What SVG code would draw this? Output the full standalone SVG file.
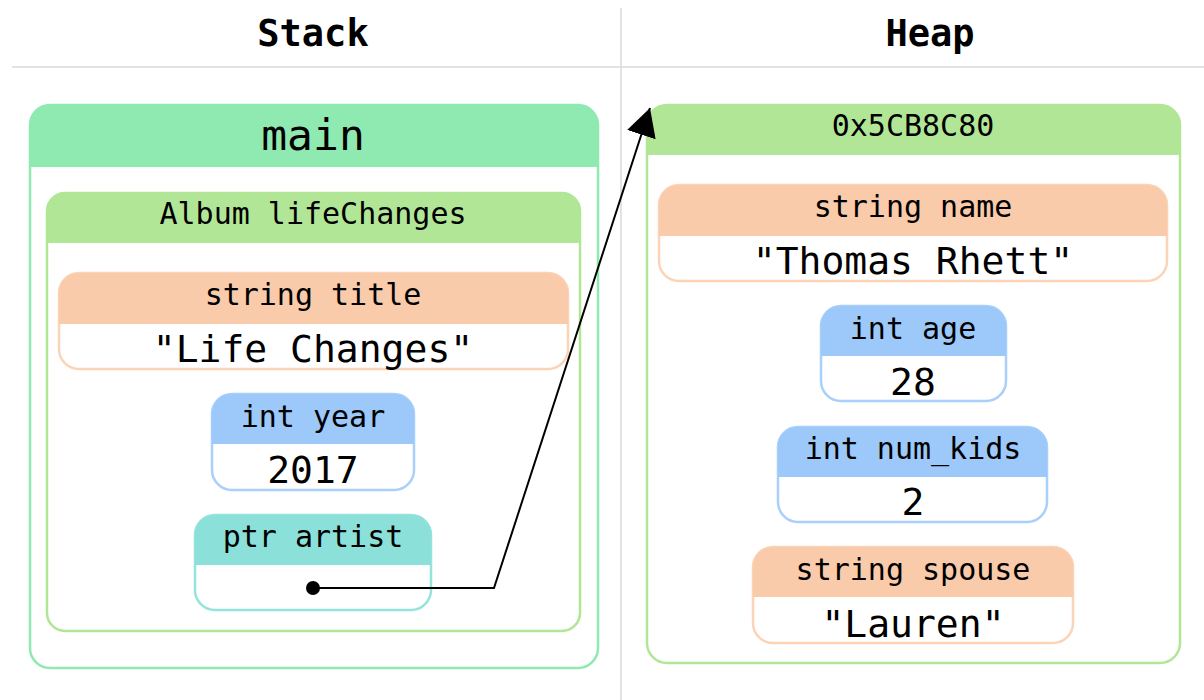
<svg xmlns="http://www.w3.org/2000/svg" width="1204" height="700" viewBox="0 0 1204 700">
<style>
text{font-family:"DejaVu Sans Mono","Liberation Mono",monospace;fill:#000;text-anchor:middle}
.title{font-weight:bold;font-size:37px}
.big{font-size:43px}
.hd{font-size:30px}
.val{font-size:38px}
.sep{stroke:#e2e2e2;stroke-width:2;fill:none}
.white{fill:#fff}
</style>
<defs>
<marker id="arr" markerUnits="userSpaceOnUse" markerWidth="32" markerHeight="32" refX="28" refY="15" orient="auto">
<path d="M0,0 L28,15 L0,30 Z" fill="#000"/>
</marker>
</defs>
<rect width="1204" height="700" fill="#fff"/>
<line class="sep" x1="12" y1="67" x2="1204" y2="67"/>
<line class="sep" x1="621" y1="8" x2="621" y2="700"/>
<text class="title" x="313" y="46">Stack</text>
<text class="title" x="930" y="46">Heap</text>

<g id="main">
<rect x="30" y="105" width="568" height="563" rx="20" fill="#fff" stroke="#8eeab1" stroke-width="2.5"/>
<path d="M30,167 V125 A20,20 0 0 1 50,105 H578 A20,20 0 0 1 598,125 V167 Z" fill="#8eeab1"/>
<text class="big" x="313" y="150">main</text>
</g>

<g id="album">
<rect x="47" y="193" width="533" height="438" rx="18" fill="#fff" stroke="#b2e697" stroke-width="2.5"/>
<path d="M47,243 V211 A18,18 0 0 1 65,193 H562 A18,18 0 0 1 580,211 V243 Z" fill="#b2e697"/>
<text class="hd" x="313" y="224">Album lifeChanges</text>
</g>

<g id="title">
<rect x="59" y="273" width="509" height="96" rx="20" fill="#fff" stroke="#fbd4b8" stroke-width="2.5"/>
<path d="M59,324 V293 A20,20 0 0 1 79,273 H548 A20,20 0 0 1 568,293 V324 Z" fill="#f9cbaa"/>
<text class="hd" x="313" y="305">string title</text>
<text class="val" x="313" y="362">"Life Changes"</text>
</g>

<g id="year">
<rect x="212" y="394" width="202" height="96" rx="20" fill="#fff" stroke="#a9cffb" stroke-width="2.5"/>
<path d="M212,444 V414 A20,20 0 0 1 232,394 H394 A20,20 0 0 1 414,414 V444 Z" fill="#9cc8fa"/>
<text class="hd" x="313" y="427">int year</text>
<text class="val" x="313" y="483">2017</text>
</g>

<g id="artist">
<rect x="195" y="515" width="236" height="95" rx="20" fill="#fff" stroke="#95e3dd" stroke-width="2.5"/>
<path d="M195,565 V535 A20,20 0 0 1 215,515 H411 A20,20 0 0 1 431,535 V565 Z" fill="#8be1da"/>
<text class="hd" x="313" y="547">ptr artist</text>
</g>

<g id="heap">
<rect x="647" y="105" width="533" height="558" rx="20" fill="#fff" stroke="#b2e697" stroke-width="2.5"/>
<path d="M647,155 V125 A20,20 0 0 1 667,105 H1160 A20,20 0 0 1 1180,125 V155 Z" fill="#b2e697"/>
<text class="hd" x="913" y="136">0x5CB8C80</text>
</g>

<g id="name">
<rect x="659" y="185" width="508" height="96" rx="20" fill="#fff" stroke="#fbd4b8" stroke-width="2.5"/>
<path d="M659,236 V205 A20,20 0 0 1 679,185 H1147 A20,20 0 0 1 1167,205 V236 Z" fill="#f9cbaa"/>
<text class="hd" x="913" y="217">string name</text>
<text class="val" x="913" y="274">"Thomas Rhett"</text>
</g>

<g id="age">
<rect x="821" y="306" width="185" height="95" rx="20" fill="#fff" stroke="#a9cffb" stroke-width="2.5"/>
<path d="M821,356 V326 A20,20 0 0 1 841,306 H986 A20,20 0 0 1 1006,326 V356 Z" fill="#9cc8fa"/>
<text class="hd" x="913" y="339">int age</text>
<text class="val" x="913" y="395">28</text>
</g>

<g id="kids">
<rect x="778" y="427" width="269" height="95" rx="20" fill="#fff" stroke="#a9cffb" stroke-width="2.5"/>
<path d="M778,477 V447 A20,20 0 0 1 798,427 H1027 A20,20 0 0 1 1047,447 V477 Z" fill="#9cc8fa"/>
<text class="hd" x="913" y="459">int num_kids</text>
<text class="val" x="913" y="515">2</text>
</g>

<g id="spouse">
<rect x="753" y="547" width="320" height="96" rx="20" fill="#fff" stroke="#fbd4b8" stroke-width="2.5"/>
<path d="M753,597 V567 A20,20 0 0 1 773,547 H1053 A20,20 0 0 1 1073,567 V597 Z" fill="#f9cbaa"/>
<text class="hd" x="913" y="580">string spouse</text>
<text class="val" x="913" y="637">"Lauren"</text>
</g>

<g id="connectors">
<circle cx="313" cy="588" r="7" fill="#000"/>
<polyline points="313,588 494,588 650,108" fill="none" stroke="#000" stroke-width="2" marker-end="url(#arr)"/>
</g>
</svg>
